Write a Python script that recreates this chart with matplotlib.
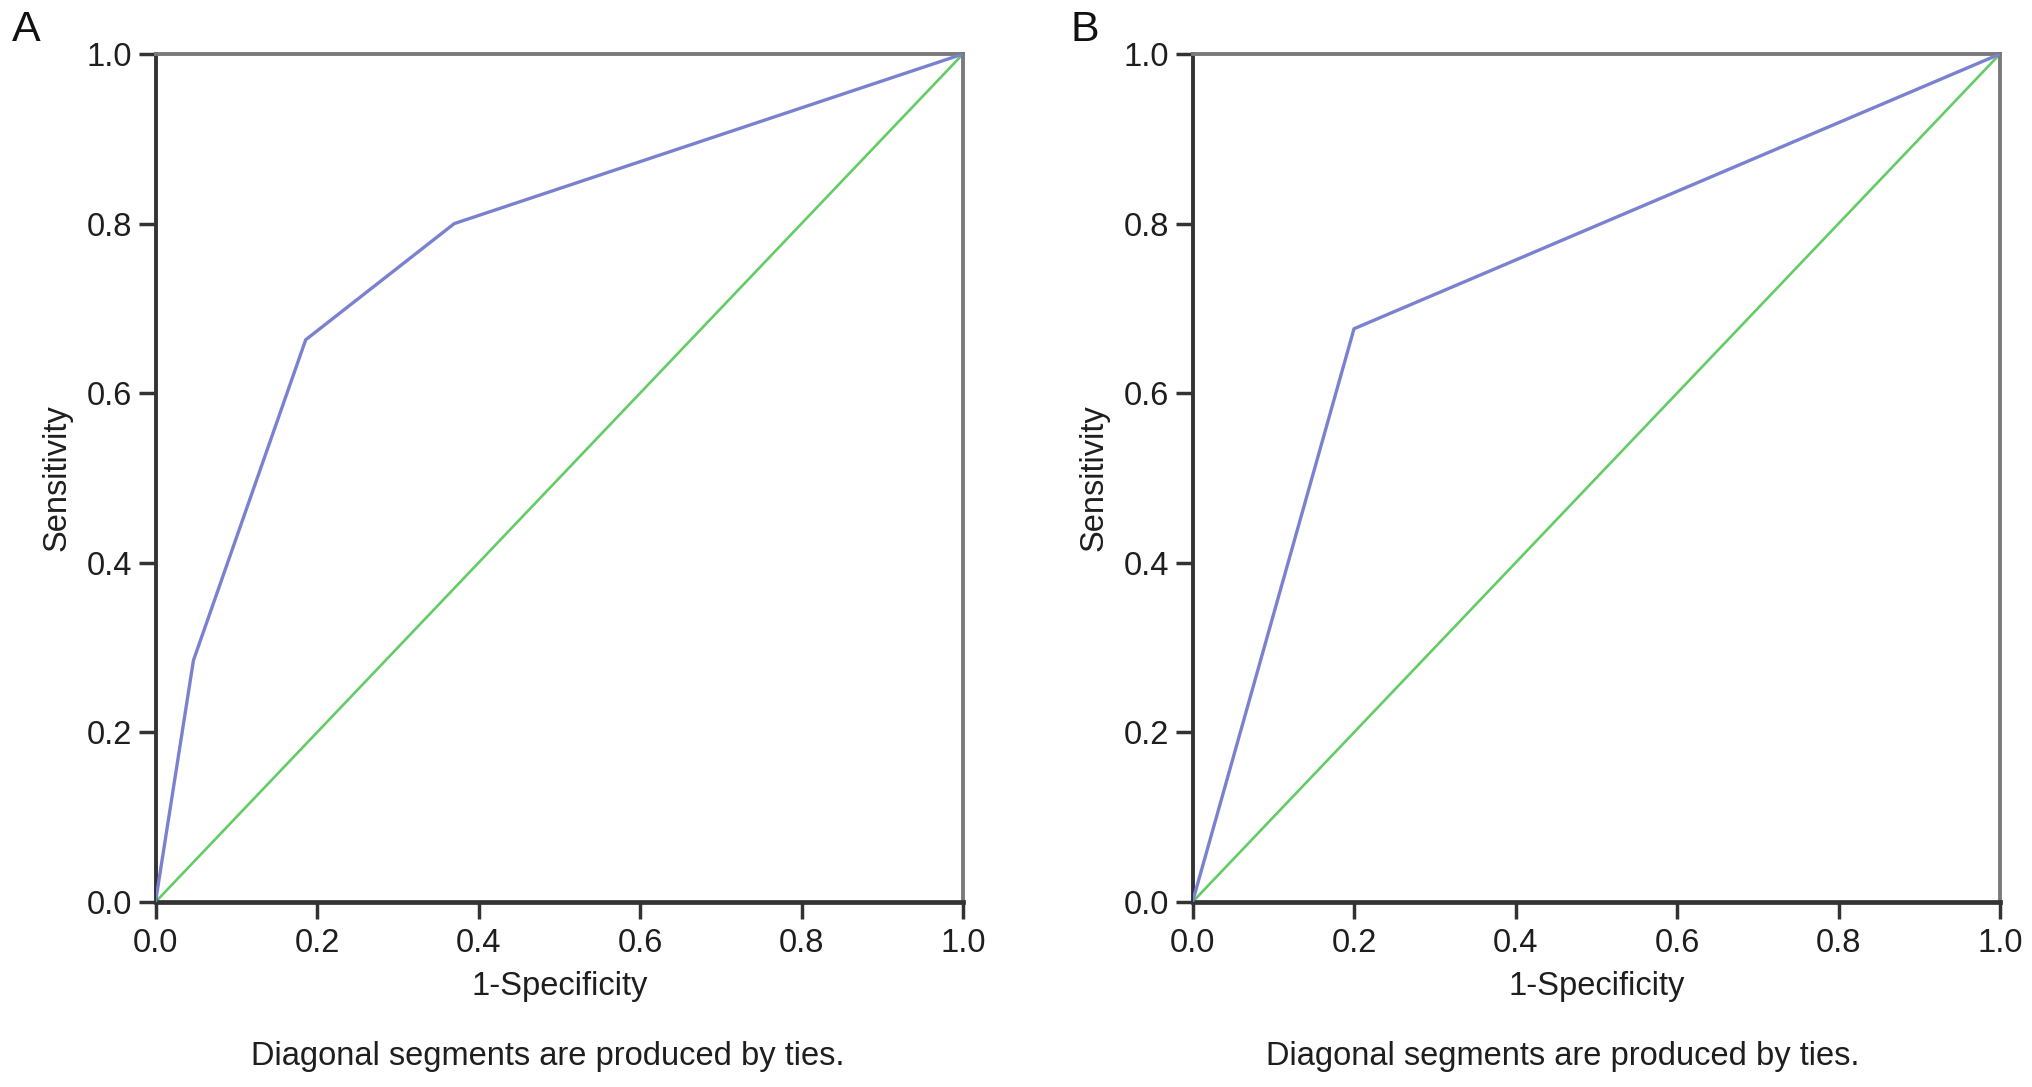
import matplotlib
matplotlib.use("Agg")
import matplotlib.pyplot as plt

plt.rcParams["font.family"] = ["Liberation Sans", "DejaVu Sans"]

# ROC curves
fpr_a = [0.0, 0.047, 0.186, 0.370, 1.0]
tpr_a = [0.0, 0.285, 0.663, 0.800, 1.0]
fpr_b = [0.0, 0.200, 1.0]
tpr_b = [0.0, 0.676, 1.0]
ref_line = [0.0, 1.0]

panels = ["A", "B"]
ticks = [0.0, 0.2, 0.4, 0.6, 0.8, 1.0]
tick_labels = ["0.0", "0.2", "0.4", "0.6", "0.8", "1.0"]
x_label = "1-Specificity"
y_label = "Sensitivity"
note = "Diagonal segments are produced by ties."

BLUE = "#7a82d0"
GREEN = "#63cc66"
DARK = "#333333"
GREY = "#7a7a7a"
TXT = "#1e1e1e"
FS = 23.5

W, H = 2032, 1087
fig = plt.figure(figsize=(W / 100, H / 100), dpi=100)

# layout in pixels (left, right of each axes box; note centre; letter x)
boxes = [(155.5, 963), (1192.5, 2000)]
note_x = [548, 1563]
letter_x = [12, 1070]
top, bottom = 54, 902
curves = [(fpr_a, tpr_a), (fpr_b, tpr_b)]

for i, ((x0, x1), (fx, ty), name) in enumerate(zip(boxes, curves, panels)):
    ax = fig.add_axes([x0 / W, 1 - bottom / H, (x1 - x0) / W, (bottom - top) / H])
    ax.plot(ref_line, ref_line, color=GREEN, lw=1.9, zorder=2)
    ax.plot(fx, ty, color=BLUE, lw=2.4, zorder=3)
    ax.set_xlim(0, 1)
    ax.set_ylim(0, 1)
    ax.set_xticks(ticks)
    ax.set_xticklabels(tick_labels)
    ax.set_yticks(ticks)
    ax.set_yticklabels(tick_labels)
    ax.tick_params(direction="out", length=12, width=2.5, color=DARK,
                   labelsize=FS, labelcolor=TXT)
    ax.tick_params(axis="x", pad=7)
    ax.tick_params(axis="y", pad=5)
    for side in ["left", "bottom"]:
        ax.spines[side].set_color(DARK)
    for side in ["top", "right"]:
        ax.spines[side].set_color(GREY)
    ax.spines["left"].set_linewidth(2.8)
    ax.spines["bottom"].set_linewidth(3.4)
    ax.spines["top"].set_linewidth(2.8)
    ax.spines["right"].set_linewidth(2.8)

    ax.set_xlabel(x_label, fontsize=FS, color=TXT)
    ax.set_ylabel(y_label, fontsize=FS, color=TXT)
    ax.xaxis.label.set_va("center")
    ax.yaxis.label.set_va("center")
    ax.xaxis.set_label_coords(0.5, (902 - 986) / 848)
    ax.yaxis.set_label_coords((57 - 155.5) / 807.5, 0.5)

    fig.text(note_x[i] / W, 1 - 1057 / H, note, fontsize=FS, color=TXT,
             ha="center", va="center")
    fig.text(letter_x[i] / W, 1 - 30 / H, name, fontsize=31, color="#111111",
             ha="left", va="center")

fig.savefig("out.png", dpi=100)
